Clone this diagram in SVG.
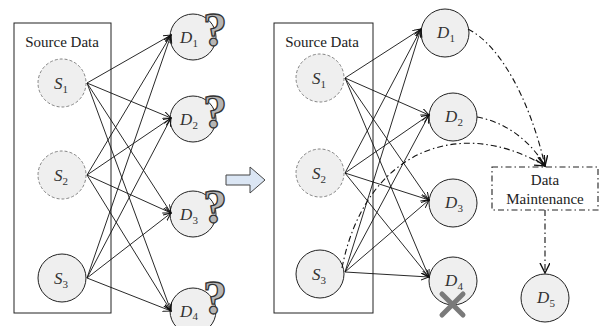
<svg xmlns="http://www.w3.org/2000/svg" width="601" height="326" viewBox="0 0 601 326">
<style>
.box{fill:#fff;stroke:#222;stroke-width:1}
.nd{fill:#efefef;stroke:#222;stroke-width:1}
.ndd{fill:#efefef;stroke:#777;stroke-width:0.9;stroke-dasharray:3 2}
.lbl{font-size:17px;fill:#333;text-anchor:middle}
.sub{font-size:11px;font-style:normal}
.ttl{font-size:15px;fill:#222;text-anchor:middle}
.ln{fill:none;stroke:#111;stroke-width:0.9;marker-end:url(#ah)}
.dd{fill:none;stroke:#111;stroke-width:1.1;stroke-dasharray:6 3 1.5 3;marker-end:url(#ah2)}
.q{font-weight:bold;font-size:48px;fill:#b5b5b5;stroke:#333;stroke-width:1.3;text-anchor:middle}
</style>
<defs>
<marker id="ah" markerWidth="10" markerHeight="10" refX="8" refY="3.5" orient="auto" markerUnits="userSpaceOnUse">
<path d="M0,0 L8,3.5 L0,7" fill="none" stroke="#111" stroke-width="1"/>
</marker>
<marker id="ah2" markerWidth="14" markerHeight="14" refX="10" refY="5" orient="auto" markerUnits="userSpaceOnUse">
<path d="M0,0 L10,5 L0,10" fill="none" stroke="#111" stroke-width="1.4"/>
</marker>
</defs>

<g font-family="'Liberation Serif', 'Times New Roman', 'DejaVu Serif', serif">
<!-- Left panel -->
<g id="left-source">
<rect class="box" x="14" y="23" width="97" height="290"/>
<text class="ttl" x="62" y="47">Source Data</text>
</g>
<g id="L-S1"><circle class="ndd" cx="62" cy="83" r="24"/><text class="lbl" x="61" y="89"><tspan font-style="italic">S</tspan><tspan class="sub" dy="4">1</tspan></text></g>
<g id="L-S2"><circle class="ndd" cx="62" cy="175" r="24"/><text class="lbl" x="61" y="181"><tspan font-style="italic">S</tspan><tspan class="sub" dy="4">2</tspan></text></g>
<g id="L-S3"><circle class="nd" cx="62" cy="278" r="24"/><text class="lbl" x="61" y="284"><tspan font-style="italic">S</tspan><tspan class="sub" dy="4">3</tspan></text></g>

<g id="L-D1"><circle class="nd" cx="193" cy="37" r="23"/><text class="lbl" x="189" y="43"><tspan font-style="italic">D</tspan><tspan class="sub" dy="4">1</tspan></text><text class="q" x="215" y="46">?</text></g>
<g id="L-D2"><circle class="nd" cx="193" cy="119" r="23"/><text class="lbl" x="189" y="125"><tspan font-style="italic">D</tspan><tspan class="sub" dy="4">2</tspan></text><text class="q" x="215" y="128">?</text></g>
<g id="L-D3"><circle class="nd" cx="193" cy="214" r="23"/><text class="lbl" x="189" y="220"><tspan font-style="italic">D</tspan><tspan class="sub" dy="4">3</tspan></text><text class="q" x="215" y="223">?</text></g>
<g id="L-D4"><circle class="nd" cx="193" cy="311" r="23"/><text class="lbl" x="189" y="317"><tspan font-style="italic">D</tspan><tspan class="sub" dy="3">4</tspan></text><text class="q" x="215" y="314">?</text></g>

<g id="left-connectors">
<line class="ln" x1="87" y1="83" x2="171" y2="35"/>
<line class="ln" x1="87" y1="83" x2="171" y2="118"/>
<line class="ln" x1="87" y1="83" x2="171" y2="213"/>
<line class="ln" x1="87" y1="83" x2="171" y2="311"/>
<line class="ln" x1="87" y1="175" x2="171" y2="35"/>
<line class="ln" x1="87" y1="175" x2="171" y2="118"/>
<line class="ln" x1="87" y1="175" x2="171" y2="213"/>
<line class="ln" x1="87" y1="175" x2="171" y2="311"/>
<line class="ln" x1="87" y1="278" x2="171" y2="35"/>
<line class="ln" x1="87" y1="278" x2="171" y2="118"/>
<line class="ln" x1="87" y1="278" x2="171" y2="213"/>
<line class="ln" x1="87" y1="278" x2="171" y2="311"/>
</g>

<!-- Block arrow -->
<g id="transition-arrow">
<path d="M226,175 L250,175 L250,167 L265,180 L250,193 L250,185 L226,185 Z" fill="#dbe6f4" stroke="#444" stroke-width="1"/>
</g>

<!-- Right panel -->
<g id="right-source">
<rect class="box" x="274" y="23" width="99" height="290"/>
<text class="ttl" x="322" y="47">Source Data</text>
</g>
<g id="R-S1"><circle class="ndd" cx="320" cy="78" r="24"/><text class="lbl" x="319" y="84"><tspan font-style="italic">S</tspan><tspan class="sub" dy="4">1</tspan></text></g>
<g id="R-S2"><circle class="ndd" cx="320" cy="173" r="24"/><text class="lbl" x="319" y="179"><tspan font-style="italic">S</tspan><tspan class="sub" dy="4">2</tspan></text></g>
<g id="R-S3"><circle class="nd" cx="320" cy="274" r="24"/><text class="lbl" x="319" y="280"><tspan font-style="italic">S</tspan><tspan class="sub" dy="4">3</tspan></text></g>

<g id="R-D1"><circle class="nd" cx="445" cy="33" r="24"/><text class="lbl" x="446" y="38"><tspan font-style="italic">D</tspan><tspan class="sub" dy="4">1</tspan></text></g>
<g id="R-D2"><circle class="nd" cx="453" cy="117" r="24"/><text class="lbl" x="454" y="122"><tspan font-style="italic">D</tspan><tspan class="sub" dy="4">2</tspan></text></g>
<g id="R-D3"><circle class="nd" cx="453" cy="203" r="24"/><text class="lbl" x="454" y="208"><tspan font-style="italic">D</tspan><tspan class="sub" dy="4">3</tspan></text></g>
<g id="R-D4"><circle class="nd" cx="453" cy="281" r="24"/><text class="lbl" x="454" y="286"><tspan font-style="italic">D</tspan><tspan class="sub" dy="4">4</tspan></text>
<path d="M442,294 L463,315 M463,294 L442,315" stroke="#7a7a7a" stroke-width="5" stroke-linecap="round" fill="none"/></g>
<g id="R-D5"><circle class="nd" cx="545" cy="298" r="24"/><text class="lbl" x="546" y="303"><tspan font-style="italic">D</tspan><tspan class="sub" dy="4">5</tspan></text></g>

<g id="data-maintenance">
<rect x="492" y="167" width="106" height="43" fill="#fff" stroke="#222" stroke-width="1.1" stroke-dasharray="6 3 1.5 3"/>
<text class="ttl" x="545" y="185">Data</text>
<text class="ttl" x="545" y="204">Maintenance</text>
</g>
</g>

<g id="right-connectors">
<line class="ln" x1="345" y1="78" x2="421" y2="29"/>
<line class="ln" x1="345" y1="78" x2="429" y2="115"/>
<line class="ln" x1="345" y1="78" x2="429" y2="200"/>
<line class="ln" x1="345" y1="78" x2="429" y2="277"/>
<line class="ln" x1="345" y1="173" x2="421" y2="29"/>
<line class="ln" x1="345" y1="173" x2="429" y2="115"/>
<line class="ln" x1="345" y1="173" x2="429" y2="200"/>
<line class="ln" x1="345" y1="173" x2="429" y2="277"/>
<line class="ln" x1="345" y1="272" x2="421" y2="29"/>
<line class="ln" x1="345" y1="272" x2="429" y2="115"/>
<line class="ln" x1="345" y1="272" x2="429" y2="200"/>
<line class="ln" x1="345" y1="272" x2="429" y2="277"/>
<path class="dd" d="M468,29 C500,45 530,100 545,166"/>
<path class="dd" d="M477,117 C505,122 530,140 545,166"/>
<path class="dd" d="M342,268 C365,150 460,115 545,166"/>
<path class="dd" d="M545,210 L545,273"/>
</g>
</svg>
